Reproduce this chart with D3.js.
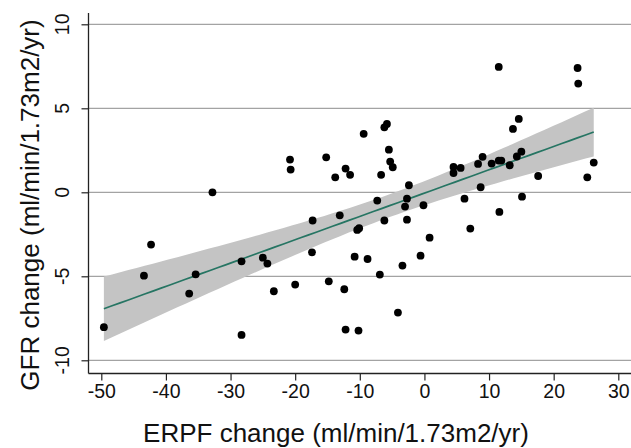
<!DOCTYPE html>
<html>
<head>
<meta charset="utf-8">
<script src="https://cdn.jsdelivr.net/npm/d3@7/dist/d3.min.js"></script>
<style>
	body { margin: 0; background: #fff; }
	svg { display: block; font-family: Arial, "Liberation Sans", sans-serif; }
</style>
</head>
<body>
<svg width="631" height="448"></svg>
<script>
// values
var erpf = [-49.6, -43.4, -42.3, -36.4, -35.4, -32.8, -28.3, -28.3, -25.0, -24.3,
	-23.3, -20.8, -20.7, -20.0, -17.3, -17.4, -15.2, -14.8, -13.8, -13.1,
	-12.4, -12.2, -12.2, -11.5, -10.8, -10.4, -10.1, -10.2, -9.4, -8.8,
	-7.3, -6.9, -6.7, -6.2, -6.2, -5.8, -5.5, -5.3, -4.9, -4.1,
	-3.4, -3.0, -2.7, -2.7, -2.4, -0.6, -0.15, 0.8, 4.5, 4.5,
	5.6, 6.2, 7.1, 8.3, 8.7, 9.0, 10.4, 11.5, 11.5, 11.6,
	11.9, 13.2, 13.7, 14.3, 14.6, 15.0, 15.1, 17.6, 23.7, 23.8,
	25.2, 26.2];
var gfr = [-8.03, -4.96, -3.11, -6.03, -4.88, 0.0, -4.11, -8.49, -3.89, -4.24,
	-5.89, 1.95, 1.35, -5.49, -1.68, -3.57, 2.08, -5.30, 0.89, -1.37,
	-5.77, 1.41, -8.17, 1.04, -3.83, -2.24, -2.14, -8.23, 3.48, -3.97,
	-0.49, -4.90, 1.04, 3.87, -1.68, 4.07, 2.54, 1.83, 1.49, -7.16,
	-4.36, -0.85, -0.38, -1.63, 0.42, -3.77, -0.77, -2.70, 1.51, 1.15,
	1.45, -0.38, -2.16, 1.69, 0.30, 2.11, 1.71, 7.46, 1.89, -1.17,
	1.89, 1.61, 3.77, 2.13, 4.37, 2.42, -0.26, 0.97, 7.40, 6.47,
	0.89, 1.77];
var xTicks = [-50, -40, -30, -20, -10, 0, 10, 20, 30];
var yTicks = [-10, -5, 0, 5, 10];
var xLabel = "ERPF change (ml/min/1.73m2/yr)";
var yLabel = "GFR change (ml/min/1.73m2/yr)";

var svg = d3.select("svg"),
    width = +svg.attr("width"),
    height = +svg.attr("height");

var x = d3.scaleLinear().domain([-50, 30]).range([101.3, 618.3]);
var y = d3.scaleLinear().domain([-10, 10]).range([360.3, 24.3]);

var axisX = 88.5, axisY = 373.5, axisTop = 13;

// least squares fit with 95% band
var n = erpf.length,
    mx = d3.mean(erpf),
    my = d3.mean(gfr),
    sxx = d3.sum(erpf, function(v) { return (v - mx) * (v - mx); }),
    sxy = d3.sum(erpf, function(v, i) { return (v - mx) * (gfr[i] - my); }),
    slope = sxy / sxx,
    icpt = my - slope * mx,
    sse = d3.sum(erpf, function(v, i) { var r = gfr[i] - (icpt + slope * v); return r * r; }),
    s = Math.sqrt(sse / (n - 2)),
    tq = 1.994;

var ext = d3.extent(erpf);
var fit = d3.range(0, 61).map(function(k) {
	var xv = ext[0] + (ext[1] - ext[0]) * k / 60,
	    yv = icpt + slope * xv,
	    se = s * Math.sqrt(1 / n + (xv - mx) * (xv - mx) / sxx);
	return {x: xv, y: yv, lo: yv - tq * se, hi: yv + tq * se};
});

// grid lines
svg.append("g")
	.selectAll("line")
	.data(yTicks)
	.enter().append("line")
	.attr("x1", axisX).attr("x2", width)
	.attr("y1", function(d) { return y(d); })
	.attr("y2", function(d) { return y(d); })
	.attr("stroke", "#a3a3a3")
	.attr("stroke-width", 1.3);

// confidence band
svg.append("path")
	.datum(fit)
	.attr("fill", "#c4c4c4")
	.attr("d", d3.area()
		.x(function(d) { return x(d.x); })
		.y0(function(d) { return y(d.lo); })
		.y1(function(d) { return y(d.hi); }));

// fitted line
svg.append("path")
	.datum(fit)
	.attr("fill", "none")
	.attr("stroke", "#267563")
	.attr("stroke-width", 1.7)
	.attr("d", d3.line()
		.x(function(d) { return x(d.x); })
		.y(function(d) { return y(d.y); }));

// points
svg.append("g")
	.selectAll("circle")
	.data(erpf)
	.enter().append("circle")
	.attr("cx", function(d) { return x(d); })
	.attr("cy", function(d, i) { return y(gfr[i]); })
	.attr("r", 3.9)
	.attr("fill", "#000");

// axes
var gx = svg.append("g").attr("transform", "translate(0," + axisY + ")");
gx.call(d3.axisBottom(x).tickValues(d3.range(-50, 31, 2)).tickSize(4).tickFormat(""));
gx.call(d3.axisBottom(x).tickValues(xTicks).tickSize(7).tickFormat(function(d) { return String(d); }));
gx.selectAll(".domain").remove();
gx.selectAll("line").attr("stroke", "#222").attr("stroke-width", 1.2);
gx.selectAll("text").attr("y", 11).attr("dy", "0.71em")
	.attr("font-size", 19.5).attr("font-family", "Arial, 'Liberation Sans', sans-serif").attr("fill", "#111");

var gy = svg.append("g").attr("transform", "translate(" + axisX + ",0)");
gy.call(d3.axisLeft(y).tickValues(d3.range(-10, 11, 1)).tickSize(4).tickFormat(""));
gy.call(d3.axisLeft(y).tickValues(yTicks).tickSize(7).tickFormat(""));
gy.selectAll(".domain").remove();
gy.selectAll("line").attr("stroke", "#222").attr("stroke-width", 1.2);

svg.append("g")
	.selectAll("text")
	.data(yTicks)
	.enter().append("text")
	.attr("transform", function(d) { return "translate(" + 69 + "," + y(d) + ") rotate(-90)"; })
	.attr("text-anchor", "middle")
	.attr("font-size", 19.5)
	.attr("fill", "#111")
	.text(function(d) { return String(d); });

svg.append("line")
	.attr("x1", axisX).attr("x2", width)
	.attr("y1", axisY).attr("y2", axisY)
	.attr("stroke", "#222").attr("stroke-width", 1.3);
svg.append("line")
	.attr("x1", axisX).attr("x2", axisX)
	.attr("y1", axisTop).attr("y2", axisY)
	.attr("stroke", "#222").attr("stroke-width", 1.3);

// titles
svg.append("text")
	.attr("x", 336).attr("y", 442)
	.attr("text-anchor", "middle")
	.attr("font-size", 26)
	.attr("fill", "#111")
	.text(xLabel);

svg.append("text")
	.attr("transform", "translate(39,205) rotate(-90)")
	.attr("text-anchor", "middle")
	.attr("font-size", 26)
	.attr("fill", "#111")
	.text(yLabel);
</script>
</body>
</html>
